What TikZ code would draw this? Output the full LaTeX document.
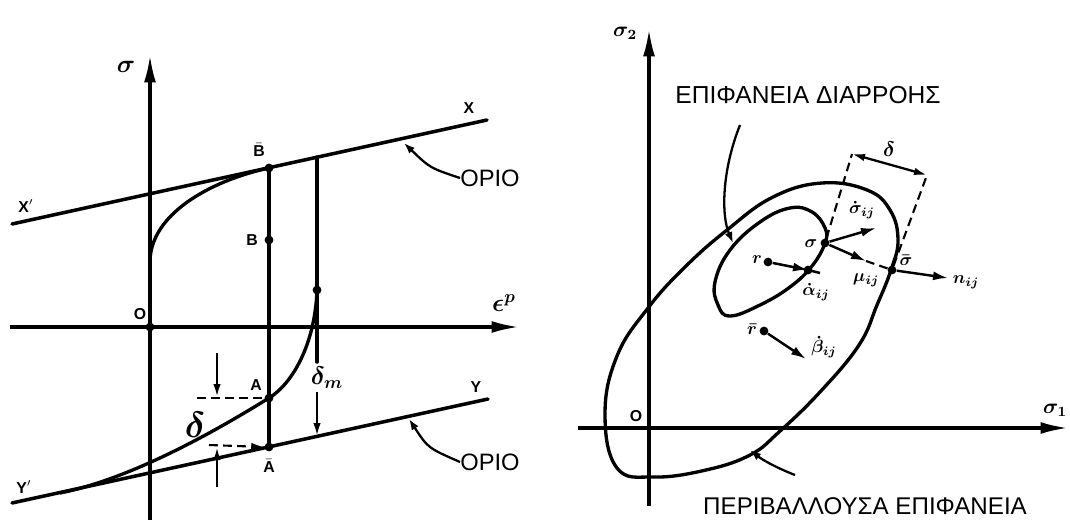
\documentclass[tikz,border=0pt]{standalone}
\usepackage{fontspec}
\setmainfont{Liberation Sans}
\usetikzlibrary{arrows.meta,positioning}

\begin{document}
\begin{tikzpicture}[x=0.02cm, y=-0.02cm,
    axis/.style={line width=1.8pt, -{Latex[length=5.5mm,width=2.4mm]}},
    bound/.style={line width=2pt, line cap=round},
    curve/.style={line width=1.9pt},
    leader/.style={line width=1.3pt, -{Latex[length=2.2mm,width=1.6mm]}},
    dim line/.style={line width=1.3pt, -{Latex[length=2.6mm,width=1.5mm]}},
    dash line/.style={line width=1.2pt, dash pattern=on 5pt off 3pt},
    vec/.style={line width=1.4pt, -{Latex[length=3mm,width=1.8mm]}},
    pnt/.style={circle, fill=black, inner sep=0pt, minimum size=5pt},
    lbl/.style={font=\boldmath\Large, inner sep=1pt},
    sub lbl/.style={font=\boldmath\normalsize, inner sep=1pt},
    letter/.style={font=\small\bfseries, inner sep=1pt},
    caption/.style={font=\fontsize{12}{14}\selectfont, inner sep=0pt}
    ]
    \useasboundingbox (0,0) rectangle (1070,520);

    % left: uniaxial sigma - plastic strain
    \coordinate (sbot) at (150,520);
    \coordinate (stop) at (150,55);
    \draw[axis] (sbot) -- (stop);
    \node[lbl] (sig) at (126,67) {$\sigma$};
    \coordinate (eleft) at (10,327);
    \coordinate (eright) at (519,327);
    \draw[axis] (eleft) -- (eright);
    \node[lbl] (eps) at (504,303) {$\epsilon^{p}$};
    \node[pnt] (O) at (150,327) {};
    \node[letter] (Olbl) at (140,314) {O};

    \coordinate (Xp) at (12,224);
    \coordinate (X) at (487,120);
    \draw[bound] (Xp) -- (X);
    \node[letter] (Xplbl) at (26,206) {X$'$};
    \node[letter] (Xlbl) at (469,108) {X};
    \coordinate (Yp) at (12,503);
    \coordinate (Y) at (488,399);
    \draw[bound] (Yp) -- (Y);
    \node[letter] (Yplbl) at (24,487) {Y$'$};
    \node[letter] (Ylbl) at (476,387) {Y};

    \node[pnt] (Bbar) at (269,168) {};
    \node[pnt] (B) at (269,240) {};
    \node[pnt] (A) at (269,398) {};
    \node[pnt] (Abar) at (269,447) {};
    \node[pnt] (P) at (317,290) {};
    \node[letter] (Bbarlbl) at (259,150) {$\bar{\mathbf{B}}$};
    \node[letter] (Blbl) at (252,240) {B};
    \node[letter] (Albl) at (256,385) {A};
    \node[letter] (Abarlbl) at (269,466) {$\bar{\mathbf{A}}$};
    \draw[bound] (Bbar.center) -- (Abar.center);

    \coordinate (Ctop) at (317,157);
    \coordinate (Cmid) at (317,362);
    \coordinate (Cdim) at (317,392);
    \coordinate (Cbot) at (317,436);
    \draw[bound] (Ctop) -- (Cmid);
    \draw[dim line] (Cdim) -- (Cbot);
    \node[lbl] (dm) at (327,378) {$\delta_{m}$};

    \draw[curve] (O.center) -- (150,262) .. controls (150,215) and (209,181) .. (Bbar.center);
    \draw[curve] (P.center) .. controls (315,345) and (292,384) .. (A.center) .. controls (222,427) and (135,478) .. (60,493);

    \coordinate (d1) at (197,398);
    \draw[dash line] (d1) -- (A.center);
    \coordinate (d2a) at (217,353);
    \coordinate (d2b) at (217,397);
    \draw[dim line] (d2a) -- (d2b);
    \coordinate (d3) at (209,445);
    \draw[dash line, -{Latex[length=2.6mm,width=1.5mm]}] (d3) -- (Abar.west);
    \coordinate (d4a) at (217,487);
    \coordinate (d4b) at (217,447);
    \draw[dim line] (d4a) -- (d4b);
    \node[font=\boldmath\fontsize{20}{22}\selectfont] (del) at (195,425) {$\delta$};

    \node[caption, font=\fontsize{13.5}{15}\selectfont] (orio1) at (490,178) {ΟΡΙΟ};
    \coordinate (o1) at (404,143);
    \draw[leader] (orio1.west) .. controls (430,168) .. (o1);
    \node[caption, font=\fontsize{13.5}{15}\selectfont] (orio2) at (490,462) {ΟΡΙΟ};
    \coordinate (o2) at (409,419);
    \draw[leader] (orio2.west) .. controls (428,448) .. (o2);

    % right: yield and bounding surfaces
    \coordinate (s2bot) at (649,506);
    \coordinate (s2top) at (649,29);
    \draw[axis] (s2bot) -- (s2top);
    \node[sub lbl, font=\boldmath\large] (sig2) at (625,33) {$\sigma_{2}$};
    \coordinate (s1left) at (578,428);
    \coordinate (s1right) at (1068,428);
    \draw[axis] (s1left) -- (s1right);
    \node[sub lbl, font=\boldmath\large] (sig1) at (1055,410) {$\sigma_{1}$};
    \node[letter] (O2lbl) at (636,416) {O};

    \draw[curve] plot[smooth cycle, tension=0.7] coordinates {(822,183) (867,190) (890,210) (898,240) (891,270) (877,305) (859,345) (820,392) (779,432) (750,455) (706,470) (654,477) (617,468) (605,414) (617,356) (648,308) (685,267) (727,230) (773,197)};
    \draw[curve] plot[smooth cycle, tension=0.7] coordinates {(790,208) (812,212) (825,228) (825,243) (812,266) (790,287) (760,305) (730,316) (718,305) (715,282) (730,250) (760,222)};

    \node[pnt] (S) at (825,243) {};
    \node[pnt] (Sbar) at (892,270) {};
    \node[pnt] (R) at (768,262) {};
    \node[pnt] (Rbar) at (764,331) {};
    \node[pnt] (Ad) at (808,270) {};
    \node[sub lbl] (Slbl) at (811,244) {$\sigma$};
    \node[sub lbl] (Sbarlbl) at (906,260) {$\bar{\sigma}$};
    \node[sub lbl] (Rlbl) at (757,260) {$r$};
    \node[sub lbl] (Rbarlbl) at (752,329) {$\bar{r}$};

    \coordinate (sdot) at (876,228);
    \draw[vec] (S) -- (sdot);
    \node[sub lbl] (sdotlbl) at (862,210) {$\dot{\sigma}_{ij}$};
    \coordinate (mu) at (866,261);
    \draw[vec] (S) -- (mu);
    \draw[dash line] (mu) -- (Sbar);
    \node[sub lbl] (mulbl) at (866,280) {$\mu_{ij}$};
    \coordinate (nij) at (948,278);
    \draw[vec] (Sbar) -- (nij);
    \node[sub lbl] (nlbl) at (966,282) {$n_{ij}$};
    \coordinate (aend) at (820,273);
    \draw[vec] (R) -- (Ad.center);
    \draw[line width=1.4pt] (Ad.center) -- (aend);
    \node[sub lbl] (alpha) at (816,292) {$\dot{\alpha}_{ij}$};
    \coordinate (bdot) at (806,359);
    \draw[vec] (Rbar) -- (bdot);
    \node[sub lbl] (beta) at (824,347) {$\dot{\beta}_{ij}$};

    \coordinate (e1) at (852,154);
    \coordinate (e2) at (927,175);
    \draw[dash line] (S) -- (e1);
    \draw[dash line] (Sbar) -- (e2);
    \draw[dim line, {Latex[length=2.6mm,width=1.5mm]}-{Latex[length=2.6mm,width=1.5mm]}] (e1) -- (e2);
    \node[sub lbl, font=\boldmath\large] (dlbl) at (889,149) {$\delta$};

    \node[caption, font=\fontsize{14}{16}\selectfont] (yield) at (808,95) {ΕΠΙΦΑΝΕΙΑ ΔΙΑΡΡΟΗΣ};
    \coordinate (yl) at (740,125);
    \coordinate (yr) at (733,243);
    \draw[leader] (yl) .. controls (722,170) and (721,215) .. (yr);
    \node[caption, font=\fontsize{13.75}{15}\selectfont] (bnd) at (865,506) {ΠΕΡΙΒΑΛΛΟΥΣΑ ΕΠΙΦΑΝΕΙΑ};
    \coordinate (bl) at (795,475);
    \coordinate (br) at (750,450);
    \draw[leader] (bl) .. controls (772,466) and (760,458) .. (br);
  \end{tikzpicture}
\end{document}
